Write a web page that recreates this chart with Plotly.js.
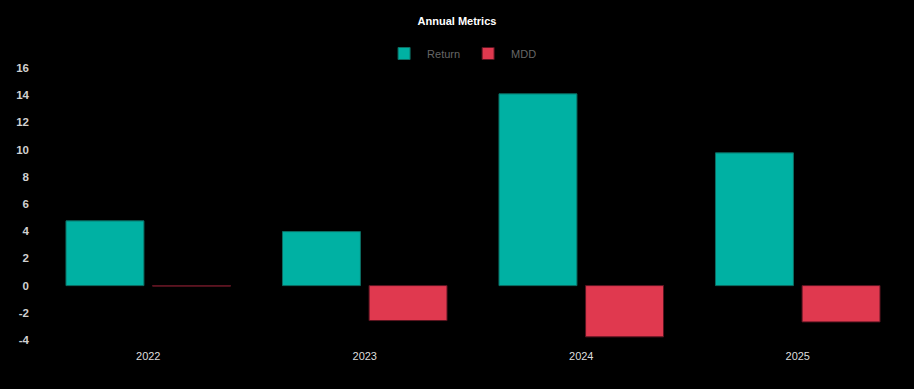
<!DOCTYPE html>
<html>
<head>
<meta charset="utf-8">
<script src="https://cdn.plot.ly/plotly-3.0.1.min.js"></script>
<style>html,body{margin:0;padding:0;background:#000;}#chart{width:914px;height:389px;}</style>
</head>
<body>
<div id="chart"></div>
<script>
const years = ['2022', '2023', '2024', '2025'];
const returnValues = [4.76, 3.97, 14.1, 9.76];
const mddValues = [-0.04, -2.57, -3.77, -2.67];
const tickValues = [-4, -2, 0, 2, 4, 6, 8, 10, 12, 14, 16];

const fontFamily = 'Liberation Sans, Arial, Helvetica, sans-serif';

const traces = [
  {
    type: 'bar', name: 'Return', x: years, y: returnValues,
    marker: {color: '#00b1a3', line: {color: '#0b6e63', width: 1}},
    hoverinfo: 'none'
  },
  {
    type: 'bar', name: 'MDD', x: years, y: mddValues,
    marker: {color: '#e0394f', line: {color: '#5a1420', width: 1}},
    hoverinfo: 'none'
  }
];

const layout = {
  width: 914, height: 389,
  paper_bgcolor: '#000', plot_bgcolor: '#000',
  margin: {l: 40, r: 8, t: 67, b: 49},
  font: {family: fontFamily, color: '#cccccc'},
  title: {
    text: '<b>Annual Metrics</b>',
    font: {family: fontFamily, size: 11, color: '#ffffff'},
    x: 0.5, xref: 'container', xanchor: 'center',
    y: 1 - 21/389, yref: 'container', yanchor: 'middle'
  },
  showlegend: true,
  legend: {
    orientation: 'h', x: 0.505, xref: 'container', xanchor: 'center',
    y: 1 - 53.5/389, yref: 'container', yanchor: 'middle',
    font: {family: fontFamily, size: 11, color: '#666666'},
    itemwidth: 36,
    bgcolor: 'rgba(0,0,0,0)'
  },
  barmode: 'group', bargap: 0.2, bargroupgap: 0.1,
  xaxis: {
    type: 'category', showgrid: false, zeroline: false, showline: false,
    ticks: '', ticklabelstandoff: 8,
    tickfont: {family: fontFamily, size: 11, color: '#dddddd'}
  },
  yaxis: {
    range: [-4, 16], tickvals: tickValues, ticktext: tickValues.map(String),
    showgrid: false, zeroline: false, showline: false,
    ticks: '', ticklabelstandoff: 10,
    tickfont: {family: fontFamily, size: 11.5, color: '#d0d0d0', weight: 'bold'}
  }
};

Plotly.newPlot('chart', traces, layout, {displayModeBar: false, staticPlot: true});
</script>
</body>
</html>
